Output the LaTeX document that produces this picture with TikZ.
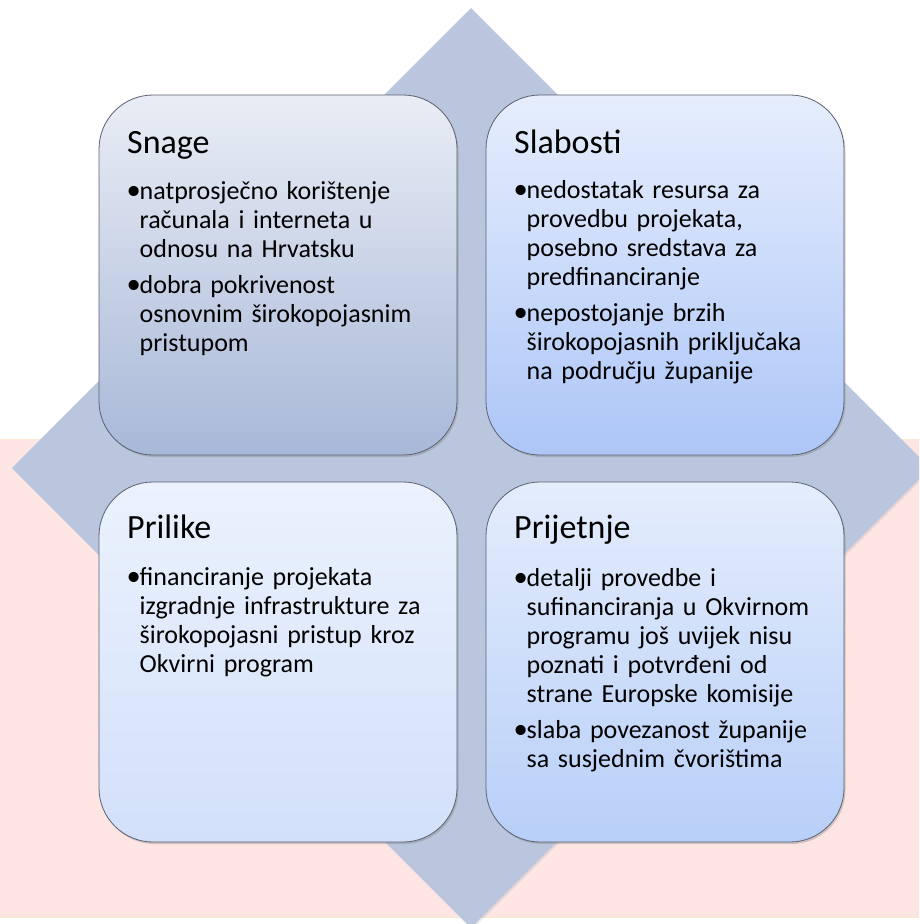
\documentclass[tikz,border=0pt]{standalone}
\usepackage{fontspec}
\usepackage{graphicx}
\setmainfont{Carlito}
\usetikzlibrary{shadows}

\definecolor{diamondblue}{HTML}{B9C6DD}
\definecolor{bgpink}{HTML}{FDE5E4}
\definecolor{bgedge}{HTML}{FBE6D2}
\definecolor{boxedge}{HTML}{5C6070}
\definecolor{snageTop}{HTML}{E9EDF5}
\definecolor{snageBot}{HTML}{A8B8D8}
\definecolor{slabTop}{HTML}{E6EEFD}
\definecolor{slabBot}{HTML}{ADC6F7}
\definecolor{prilTop}{HTML}{EBF2FD}
\definecolor{prilBot}{HTML}{D2E0FA}
\definecolor{prijTop}{HTML}{E4EDFC}
\definecolor{prijBot}{HTML}{B8CFF8}

\tikzset{
  quad/.style={rectangle, rounded corners=54pt, minimum width=358pt,
    minimum height=360pt, inner sep=0pt, draw=boxedge, line width=0.8pt,
    drop shadow={shadow xshift=1.5pt, shadow yshift=-2pt, opacity=0.35}},
  heading/.style={anchor=base west, inner sep=0pt,
    font=\fontsize{34}{40}\selectfont},
  bullets/.style={anchor=base west, inner sep=0pt, text width=330pt,
    font=\fontsize{26}{29}\selectfont},
}
% one bulleted paragraph with a hanging indent; later paragraphs get a gap
\newcommand\bul[1]{\hangindent=13pt\hangafter=1\noindent
  \makebox[13pt][l]{\scalebox{1.1}{•}}#1\par\parskip=7pt\relax}
\newcommand\bulletlist[1]{\raggedright\parskip=0pt\relax#1}

\begin{document}
\begin{tikzpicture}[x=1pt, y=-1pt]
  \useasboundingbox (0,0) rectangle (919,924);
  \clip (0,0) rectangle (919,924);

  % background band
  \path[fill=bgpink, draw=bgedge, line width=1pt] (-2,439) rectangle (921,917);

  % central diamond
  \path[fill=diamondblue, drop shadow={shadow xshift=1.5pt, shadow yshift=-1.5pt, opacity=0.15}]
    (471,8) -- (930,468) -- (471,928) -- (12,468) -- cycle;

  % four quadrants
  \node[quad, top color=snageTop, bottom color=snageBot] (snage) at (278,275) {};
  \node[quad, top color=slabTop, bottom color=slabBot] (slabosti) at (665,275) {};
  \node[quad, top color=prilTop, bottom color=prilBot] (prilike) at (278,662) {};
  \node[quad, top color=prijTop, bottom color=prijBot] (prijetnje) at (665,662) {};

  % headings
  \node[heading] (snageT) at (127,153) {Snage};
  \node[heading] (slabostiT) at (514,153) {Slabosti};
  \node[heading] (prilikeT) at (127,538) {Prilike};
  \node[heading] (prijetnjeT) at (514,538) {Prijetnje};

  % bullet texts
  \node[bullets] (snageB) at (126.5,199) {\bulletlist{%
    \bul{natprosječno korištenje\newline računala i interneta u\newline odnosu na Hrvatsku}%
    \bul{dobra pokrivenost\newline osnovnim širokopojasnim\newline pristupom}}};
  \node[bullets] (slabostiB) at (513.5,198) {\bulletlist{%
    \bul{nedostatak resursa za\newline provedbu projekata,\newline posebno sredstava za\newline predfinanciranje}%
    \bul{nepostojanje brzih\newline širokopojasnih priključaka\newline na području županije}}};
  \node[bullets] (prilikeB) at (126.5,585) {\bulletlist{%
    \bul{financiranje projekata\newline izgradnje infrastrukture za\newline širokopojasni pristup kroz\newline Okvirni program}}};
  \node[bullets] (prijetnjeB) at (513.5,586) {\bulletlist{%
    \bul{detalji provedbe i\newline sufinanciranja u Okvirnom\newline programu još uvijek nisu\newline poznati i potvrđeni od\newline strane Europske komisije}%
    \bul{slaba povezanost županije\newline sa susjednim čvorištima}}};
\end{tikzpicture}
\end{document}
